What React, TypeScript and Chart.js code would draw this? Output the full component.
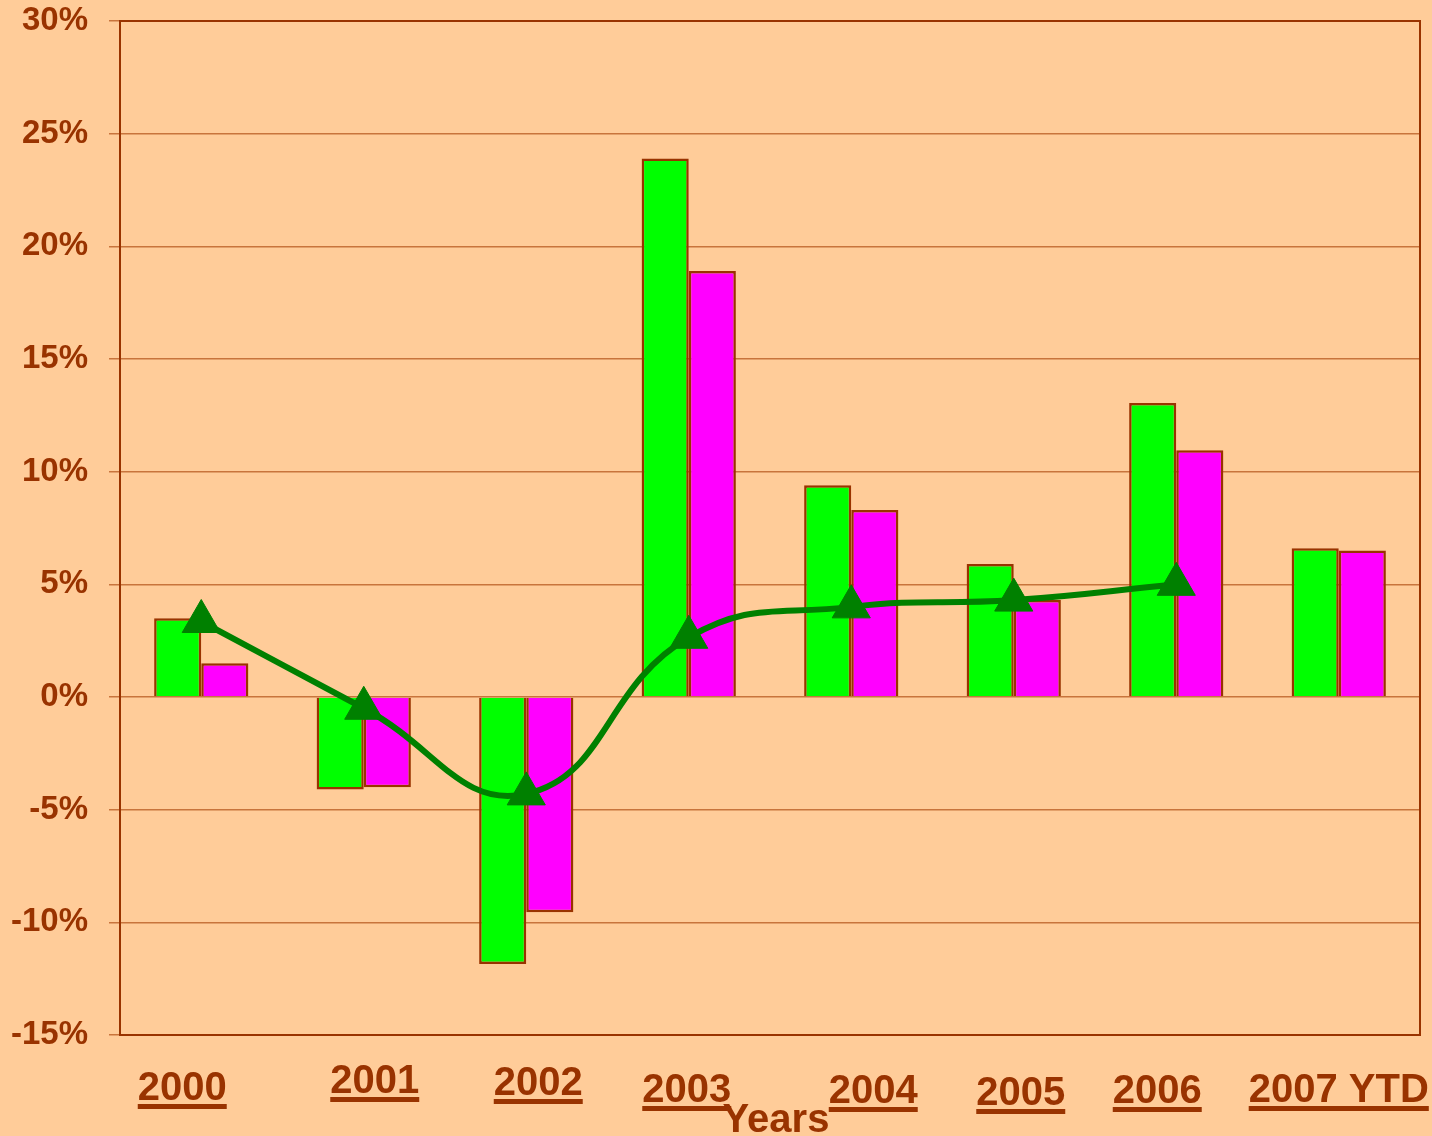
import React, { useEffect, useRef } from "react";
import { Chart, registerables } from "chart.js";

Chart.register(...registerables);

const categories = ["2000", "2001", "2002", "2003", "2004", "2005", "2006", "2007 YTD"];
const greenSeries = [3.5, -4.1, -11.85, 23.9, 9.4, 5.9, 13.05, 6.6];
const magentaSeries = [1.5, -4.0, -9.55, 18.9, 8.3, 4.3, 10.95, 6.5];
const lineSeries = [3.35, -0.5, -4.3, 2.65, 4.0, 4.3, 5.0, null];
const yTicks = { min: -15, max: 30, step: 5 };
const xTitle = "Years";

// layout nudges for the hand-placed category labels (pixels)
const labelNudgeX = [-19, 11, 12, -2, 22, 7, -19, 0];
const labelNudgeY = [-2, -9, -7, 0, 1, 3, 1, 0];

const BROWN = "#993300";
const GRID = "#C8743C";
const BG = "#FFCC99";
const FONT = "'Liberation Sans', Arial, sans-serif";

const decorPlugin = {
  id: "decor",
  beforeDraw(chart: any) {
    const { ctx, width, height } = chart;
    ctx.save();
    ctx.fillStyle = BG;
    ctx.fillRect(0, 0, width, height);
    ctx.restore();
  },
  afterDraw(chart: any) {
    const { ctx, chartArea } = chart;
    const xs = chart.scales.x;
    ctx.save();
    // plot frame
    ctx.strokeStyle = BROWN;
    ctx.lineWidth = 2;
    ctx.strokeRect(chartArea.left, chartArea.top, chartArea.right - chartArea.left, chartArea.bottom - chartArea.top);
    // category labels, underlined
    ctx.font = `bold 40px ${FONT}`;
    ctx.fillStyle = BROWN;
    ctx.textAlign = "left";
    ctx.textBaseline = "alphabetic";
    categories.forEach((c, i) => {
      const cx = xs.getPixelForValue(i) + labelNudgeX[i];
      const w = ctx.measureText(c).width;
      const base = 1102 + labelNudgeY[i];
      const left = cx - w / 2;
      ctx.fillText(c, left, base);
      ctx.fillRect(left, base + 4, w, 5);
    });
    // axis title
    ctx.textAlign = "center";
    ctx.fillText(xTitle, (chartArea.left + chartArea.right) / 2 + 6, 1132);
    ctx.restore();
  },
};

export default function App() {
  const ref = useRef<HTMLCanvasElement | null>(null);
  useEffect(() => {
    document.body.style.margin = "0";
    document.body.style.background = BG;
    const chart = new Chart(ref.current as HTMLCanvasElement, {
      type: "bar",
      data: {
        labels: categories,
        datasets: [
          {
            type: "line",
            label: "Average",
            data: lineSeries,
            borderColor: "#008000",
            backgroundColor: "#008000",
            borderWidth: 6,
            pointStyle: "triangle",
            pointRadius: 22,
            pointBackgroundColor: "#008000",
            pointBorderColor: "#008000",
            pointBorderWidth: 1,
            tension: 0.45,
            order: 0,
          } as any,
          {
            label: "Series A",
            data: greenSeries,
            backgroundColor: "#00FF00",
            borderColor: BROWN,
            borderWidth: 2.5,
            order: 1,
          },
          {
            label: "Series B",
            data: magentaSeries,
            backgroundColor: "#FF00FF",
            borderColor: BROWN,
            borderWidth: 2.5,
            order: 1,
          },
        ],
      },
      options: {
        responsive: false,
        animation: false,
        layout: { autoPadding: false, padding: { left: 0, top: 21, right: 12, bottom: 0 } },
        datasets: { bar: { categoryPercentage: 0.58, barPercentage: 1 } },
        plugins: { legend: { display: false }, tooltip: { enabled: false } },
        scales: {
          x: {
            ticks: { display: false },
            grid: { display: false, drawTicks: false },
            border: { display: true, color: BROWN, width: 2 },
            afterFit: (s: any) => {
              s.height = 101;
              s.paddingLeft = 0;
              s.paddingRight = 0;
            },
          },
          y: {
            min: yTicks.min,
            max: yTicks.max,
            ticks: {
              stepSize: yTicks.step,
              padding: 21,
              color: BROWN,
              font: { family: FONT, size: 33, weight: "bold" },
              callback: (v: any) => `${v}%`,
            },
            grid: { color: GRID, lineWidth: 1.5, tickLength: 11 },
            border: { display: true, color: BROWN, width: 2 },
            afterFit: (s: any) => {
              s.width = 120;
              s.paddingTop = 0;
              s.paddingBottom = 0;
            },
          },
        },
      },
      plugins: [decorPlugin],
    });
    return () => chart.destroy();
  }, []);
  return (
    <div style={{ position: "absolute", left: 0, top: 0, width: 1432, height: 1136 }}>
      <canvas ref={ref} width={1432} height={1136} style={{ display: "block" }} />
    </div>
  );
}
